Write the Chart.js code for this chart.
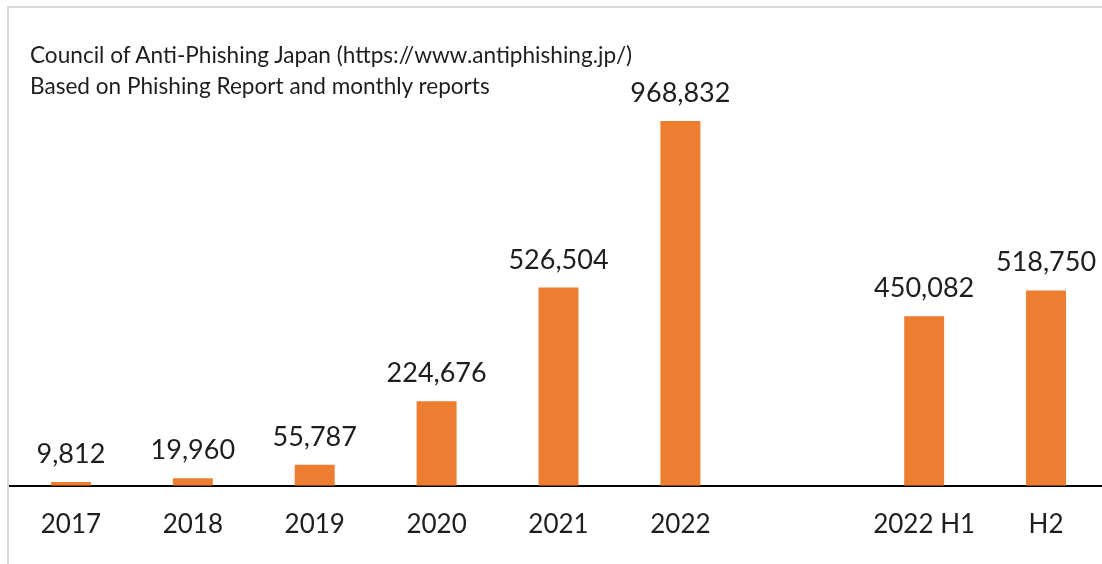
<!DOCTYPE html>
<html>
<head>
<meta charset="utf-8">
<script src="https://cdn.jsdelivr.net/npm/chart.js@4.4.1/dist/chart.umd.min.js"></script>
<style>
  html, body { margin: 0; padding: 0; overflow: hidden; background: #fff; }
  #wrap { position: relative; width: 1108px; height: 564px; }
  #frame { position: absolute; left: 7px; top: 6px; right: 0; bottom: 0;
           border-top: 2px solid #d9d9d9; border-left: 2px solid #d9d9d9; }
  #note { position: absolute; left: 30px; top: 39px; font-family: Lato, "Noto Sans", sans-serif;
          font-size: 22.6px; line-height: 31px; color: #1e1e1e; white-space: nowrap; }
  canvas { position: absolute; left: 0; top: 0; }
</style>
</head>
<body>
<div id="wrap">
  <div id="frame"></div>
  <canvas id="c" width="1108" height="564"></canvas>
  <div id="note">Council of Anti-Phishing Japan (https://www.antiphishing.jp/)<br>Based on Phishing Report and monthly reports</div>
</div>
<script>
// Phishing reports per year, plus the 2022 half-year split
const categories = ['2017', '2018', '2019', '2020', '2021', '2022', '', '2022 H1', 'H2'];
const reports = [9812, 19960, 55787, 224676, 526504, 968832, null, 450082, 518750];

const BAR_COLOR = '#ED7D31';
const TEXT_COLOR = '#1e1e1e';
const FONT = 'Lato, "Noto Sans", sans-serif';

// Value labels above each bar
const valueLabels = {
  id: 'valueLabels',
  afterDatasetsDraw(chart) {
    const { ctx } = chart;
    const meta = chart.getDatasetMeta(0);
    ctx.save();
    ctx.font = '27px ' + FONT;
    ctx.fillStyle = TEXT_COLOR;
    ctx.textAlign = 'center';
    ctx.textBaseline = 'alphabetic';
    meta.data.forEach((bar, i) => {
      const v = reports[i];
      if (v == null) return;
      ctx.fillText(v.toLocaleString('en-US'), bar.x, bar.y - 19);
    });
    ctx.restore();
  }
};

new Chart(document.getElementById('c'), {
  type: 'bar',
  data: {
    labels: categories,
    datasets: [{
      data: reports,
      backgroundColor: BAR_COLOR,
      borderWidth: 0,
      barPercentage: 0.328,
      categoryPercentage: 1
    }]
  },
  options: {
    responsive: false,
    animation: false,
    devicePixelRatio: 1,
    layout: { padding: { left: 10, right: 1, top: 34, bottom: 1 } },
    plugins: { legend: { display: false }, tooltip: { enabled: false } },
    scales: {
      x: {
        grid: { display: false, drawTicks: false },
        border: { display: true, color: '#000', width: 2 },
        ticks: { color: TEXT_COLOR, font: { family: FONT, size: 26 }, padding: 23, maxRotation: 0, autoSkip: false }
      },
      y: {
        display: false,
        min: 0,
        max: 1200000
      }
    }
  },
  plugins: [valueLabels]
});
</script>
</body>
</html>
